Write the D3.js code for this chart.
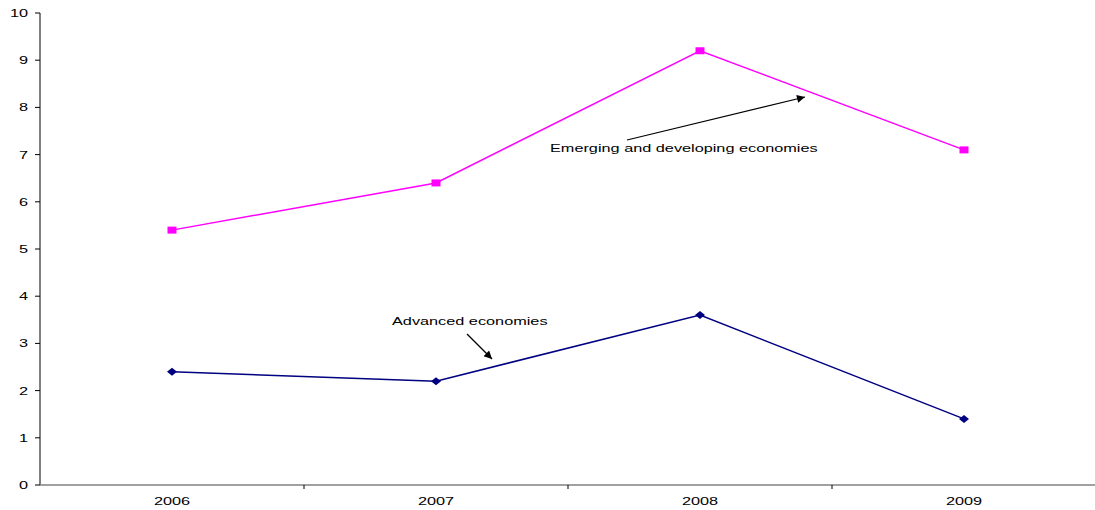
<!DOCTYPE html>
<html><head><meta charset="utf-8">
<script src="https://cdn.jsdelivr.net/npm/d3@7"></script>
<style>body{margin:0;background:#fff}svg{display:block}text{font-family:Arial,"Liberation Sans",sans-serif;fill:#000}</style>
</head><body>
<svg id="c" width="1095" height="510"></svg>
<script>
const years = ["2006","2007","2008","2009"];
const emerging = [5.4, 6.4, 9.2, 7.1];
const advanced = [2.4, 2.2, 3.6, 1.4];
const yTicks = [0,1,2,3,4,5,6,7,8,9,10];
const labelEmerging = "Emerging and developing economies";
const labelAdvanced = "Advanced economies";

(function(){
const svg = d3.select("#c");
const mL = 40, mR = 1096, mT = 13, mB = 485;
const SX = 1.38, FS = 11.8;
const x = d3.scaleBand().domain(years).range([mL, mR]);
const y = d3.scaleLinear().domain([0,10]).range([mB, mT]);

function stxt(g, str, px, py, anchor) {
  return g.append("text").attr("transform", `translate(${px},${py}) scale(${SX},1)`)
    .attr("font-size", FS).attr("text-anchor", anchor).text(str);
}

// y axis
const ya = svg.append("g");
ya.append("line").attr("x1", mL).attr("x2", mL).attr("y1", mT).attr("y2", mB).attr("stroke", "#000");
yTicks.forEach(v => {
  ya.append("line").attr("x1", mL - 5).attr("x2", mL).attr("y1", y(v)).attr("y2", y(v)).attr("stroke", "#000");
  stxt(ya, String(v), 28, y(v) + 4, "end");
});

// x axis
const xa = svg.append("g");
xa.append("line").attr("x1", mL).attr("x2", mR).attr("y1", mB).attr("y2", mB).attr("stroke", "#808080").attr("stroke-width", 1.5);
years.forEach((yr, i) => {
  if (i > 0) xa.append("line").attr("x1", x(yr)).attr("x2", x(yr)).attr("y1", mB).attr("y2", mB + 4).attr("stroke", "#000");
  stxt(xa, yr, x(yr) + x.bandwidth() / 2, 505, "middle");
});

const cx = (d, i) => x(years[i]) + x.bandwidth() / 2;
const line = d3.line().x(cx).y(d => y(d));

svg.append("path").datum(emerging).attr("d", line).attr("fill", "none").attr("stroke", "#FF00FF").attr("stroke-width", 1.5);
svg.append("path").datum(advanced).attr("d", line).attr("fill", "none").attr("stroke", "#000080").attr("stroke-width", 1.5);

svg.selectAll(".sq").data(emerging).enter().append("rect")
  .attr("x", (d, i) => cx(d, i) - 4.5).attr("y", d => y(d) - 3.5).attr("width", 9).attr("height", 7).attr("fill", "#FF00FF");
svg.selectAll(".dm").data(advanced).enter().append("path")
  .attr("d", (d, i) => { const X = cx(d, i), Y = y(d); return `M${X-5},${Y}L${X},${Y-4}L${X+5},${Y}L${X},${Y+4}Z`; })
  .attr("fill", "#000080");

// annotations
svg.append("defs").append("marker").attr("id", "ah").attr("viewBox", "0 0 10 10").attr("refX", 10).attr("refY", 5)
  .attr("markerWidth", 10).attr("markerHeight", 8).attr("markerUnits", "userSpaceOnUse").attr("orient", "auto")
  .append("path").attr("d", "M0,0L10,5L0,10Z").attr("fill", "#000");

stxt(svg, labelAdvanced, 392, 325, "start");
svg.append("line").attr("x1", 467).attr("y1", 334).attr("x2", 492).attr("y2", 359).attr("stroke", "#000").attr("stroke-width", 1.2).attr("marker-end", "url(#ah)");

stxt(svg, labelEmerging, 550, 152, "start");
svg.append("line").attr("x1", 627).attr("y1", 140).attr("x2", 805).attr("y2", 97).attr("stroke", "#000").attr("stroke-width", 1.2).attr("marker-end", "url(#ah)");
})();
</script>
</body></html>
